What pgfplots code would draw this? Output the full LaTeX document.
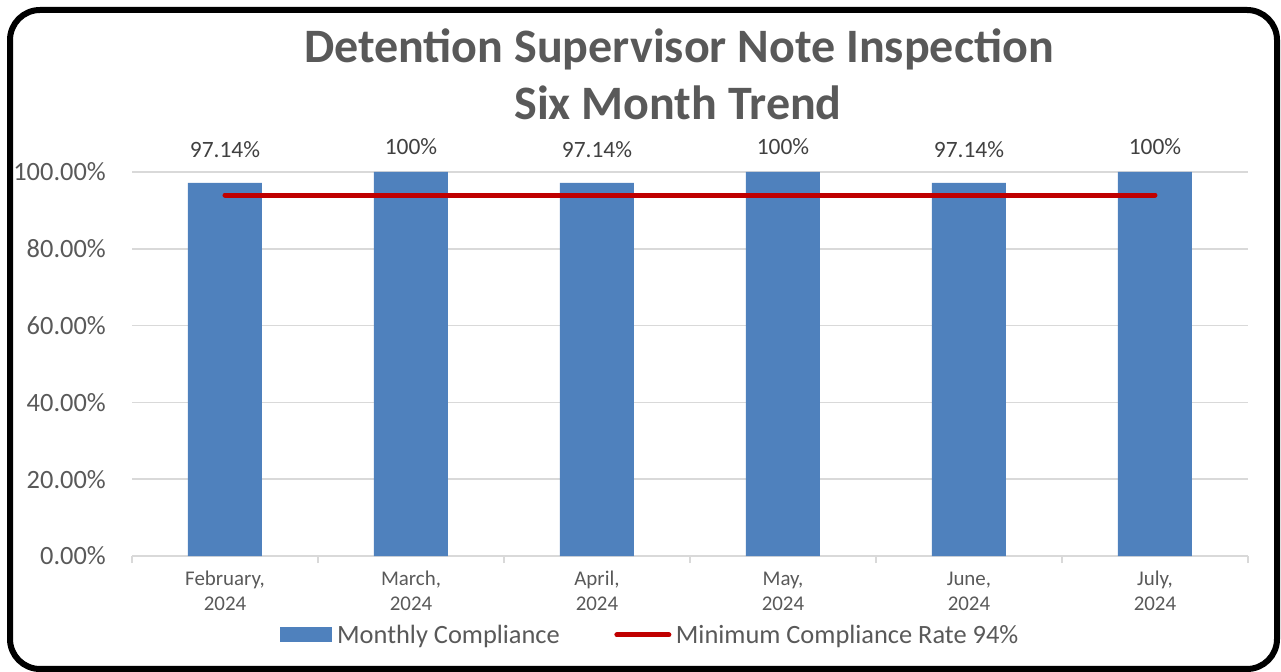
\documentclass[border=0pt]{standalone}
\usepackage{pgfplots}
\pgfplotsset{compat=1.18}
\usepackage{fontspec}
\setmainfont{Carlito}
\definecolor{barblue}{HTML}{4F81BD}
\definecolor{minred}{HTML}{C00000}
\definecolor{txtgray}{HTML}{595959}
\definecolor{lblgray}{HTML}{404040}
\definecolor{gridgray}{HTML}{D9D9D9}
\pgfplotsset{
  barleg/.style={legend image code/.code={\fill[##1] (0bp,-7.5bp) rectangle (52bp,7.5bp);\path (57bp,0bp);}},
  lineleg/.style={legend image code/.code={\path (0bp,0bp);\draw[##1] (2.5bp,0bp) -- (54.5bp,0bp);\path (59bp,0bp);}},
}
\begin{document}
\begin{tikzpicture}
\useasboundingbox (0bp,0bp) rectangle (1281bp,672bp);
\draw[line width=6bp, rounded corners=30bp] (10bp,662bp) rectangle (1277bp,3bp);
\node[anchor=base, text=txtgray, font=\fontsize{48.2}{58}\selectfont\bfseries, inner sep=0pt] at (679bp,609bp) {Detention Supervisor Note Inspection};
\node[anchor=base, text=txtgray, font=\fontsize{48.2}{58}\selectfont\bfseries, inner sep=0pt] at (678bp,552bp) {Six Month Trend};
\begin{axis}[
  at={(132bp,116bp)}, anchor=south west,
  scale only axis, width=1116bp, height=384bp,
  xmin=-0.5, xmax=5.5, ymin=0, ymax=100,
  clip=false,
  axis x line*=bottom, axis y line*=left,
  x axis line style={draw=gridgray, line width=1.5bp},
  y axis line style={draw=none},
  ymajorgrids, grid style={draw=gridgray, line width=1.5bp},
  ytick={0,20,40,60,80,100},
  yticklabels={0.00\%,20.00\%,40.00\%,60.00\%,80.00\%,100.00\%},
  ytick style={draw=none},
  yticklabel style={inner sep=0pt, xshift=-26bp, text=txtgray, font=\fontsize{26.5}{32}\selectfont},
  xtick={0,1,2,3,4,5},
  xticklabels={{\strut February,\\\strut 2024},{\strut March,\\\strut 2024},{\strut April,\\\strut 2024},{\strut May,\\\strut 2024},{\strut June,\\\strut 2024},{\strut July,\\\strut 2024}},
  major tick length=0pt,
  xticklabel style={align=center, anchor=north, inner sep=0pt, yshift=-11.5bp, text=txtgray, font=\fontsize{21}{25}\selectfont},
  extra x ticks={-0.5,0.5,1.5,2.5,3.5,4.5,5.5},
  extra x tick labels={},
  extra x tick style={major tick length=7bp, tick align=outside, tick style={draw=gridgray, line width=1.5bp}},
  legend columns=2,
  legend style={draw=none, fill=none, at={(0.1326,-0.2057)}, anchor=west, inner sep=0pt,
    nodes={inner sep=0pt},
    font=\fontsize{26.5}{32}\selectfont, text=txtgray,
    /tikz/every even column/.append style={column sep=52bp}},
]
\addplot[ybar, bar width=74bp, fill=barblue, draw=none,
  point meta=explicit symbolic,
  visualization depends on={y \as \rawy},
  nodes near coords={\pgfplotspointmeta},
  every node near coord/.append style={anchor=center, text=lblgray, font=\fontsize{23.5}{28}\selectfont, yshift={(105.86+(\rawy-97.14)*0.2273-\rawy)*3.84bp}},
  barleg]
coordinates {(0,97.14) [97.14\%] (1,100) [100\%] (2,97.14) [97.14\%] (3,100) [100\%] (4,97.14) [97.14\%] (5,100) [100\%]};
\addlegendentry{Monthly Compliance}
\addplot[minred, line width=5bp, line cap=round, mark=none, lineleg]
coordinates {(0,94) (5,94)};
\addlegendentry{Minimum Compliance Rate 94\%}
\end{axis}
\end{tikzpicture}
\end{document}
